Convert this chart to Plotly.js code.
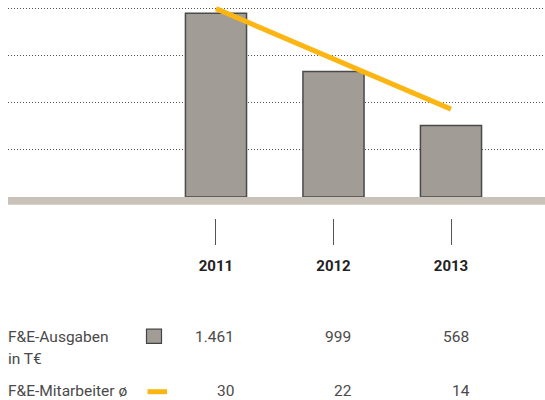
<!DOCTYPE html>
<html><head><meta charset="utf-8">
<script src="https://cdn.plot.ly/plotly-3.0.1.min.js"></script>
<style>html,body{margin:0;padding:0;background:#fff}#c{width:545px;height:400px}</style>
</head><body><div id="c"></div>
<script>
const years = [2011, 2012, 2013];
const spending = [1461, 999, 568];          // F&E-Ausgaben in T€
const staff = [30, 22, 14];                 // F&E-Mitarbeiter ø
const spendingLabels = ['1.461', '999', '568'];
const staffLabels = ['30', '22', '14'];
const rowLabels = ['F&E-Ausgaben', 'in T€', 'F&E-Mitarbeiter ø'];

const W = 545, H = 400;
const py = p => (H - p) / H;   // pixel row -> paper y
const px = p => (p - 8) / (W - 8);

const traces = [
  {type:'bar', x: years, y: spending, width: 0.52,
   marker:{color:'#a19c95', line:{color:'#4a4a4a', width:1.5}},
   hoverinfo:'skip', showlegend:false, xaxis:'x', yaxis:'y'},
  {type:'scatter', mode:'lines', x: years, y: staff,
   line:{color:'#fbb614', width:5}, hoverinfo:'skip', showlegend:false,
   xaxis:'x', yaxis:'y2', cliponaxis:false}
];

const txt = {family:'Roboto, sans-serif', size:15.5, color:'#4a4a4a'};
const annotations = [];
spendingLabels.forEach((t,i)=>annotations.push({xref:'x', yref:'paper', x:years[i], y:py(336.5), text:t,
  xanchor:'right', yanchor:'middle', xshift:20, showarrow:false, font:txt}));
staffLabels.forEach((t,i)=>annotations.push({xref:'x', yref:'paper', x:years[i], y:py(390.5), text:t,
  xanchor:'right', yanchor:'middle', xshift:20.5, showarrow:false, font:txt}));
annotations.push({xref:'paper', yref:'paper', x:0, y:py(336.5), text:rowLabels[0], xanchor:'left', yanchor:'middle', xshift:-2, showarrow:false, font:txt});
annotations.push({xref:'paper', yref:'paper', x:0, y:py(359), text:rowLabels[1], xanchor:'left', yanchor:'middle', xshift:-2, showarrow:false, font:txt});
annotations.push({xref:'paper', yref:'paper', x:0, y:py(390.5), text:rowLabels[2], xanchor:'left', yanchor:'middle', xshift:-2, showarrow:false, font:txt});

const shapes = [
  // baseline band
  {type:'rect', xref:'paper', yref:'paper', x0:0, x1:1, y0:py(204.7), y1:py(197), fillcolor:'#c9c2b8', line:{width:0}, layer:'below'},
  // legend keys
  {type:'rect', xref:'paper', yref:'paper', x0:px(146.5), x1:px(161.5), y0:py(343.3), y1:py(329.2), fillcolor:'#a19c95', line:{color:'#444444', width:1.2}},
  {type:'line', xref:'paper', yref:'paper', x0:px(147.5), x1:px(167), y0:py(391.7), y1:py(391.7), line:{color:'#fbb614', width:5}}
];

const layout = {
  width:W, height:H, margin:{l:8, r:0, t:0, b:0},
  paper_bgcolor:'#fff', plot_bgcolor:'rgba(0,0,0,0)', showlegend:false,
  xaxis:{range:[2009.23, 2013.80], anchor:'free', position:py(218.3), tickvals:years, ticktext:years.map(String),
    ticks:'outside', ticklen:25.7, tickwidth:1, tickcolor:'#555555', showgrid:false, zeroline:false, showline:false,
    tickfont:{family:'Roboto, sans-serif', size:15, color:'#222222', weight:'bold'}, ticklabelstandoff:8},
  yaxis:{domain:[py(197), 1], range:[0, 1567], dtick:375.3, showgrid:true, gridcolor:'#555555', griddash:'1px,2px', gridwidth:1,
    showticklabels:false, zeroline:false, showline:false, ticks:''},
  yaxis2:{overlaying:'y', range:[0, 31.38], showgrid:false, showticklabels:false, zeroline:false, showline:false},
  annotations, shapes
};
Plotly.newPlot('c', traces, layout, {staticPlot:true, displayModeBar:false});
</script></body></html>
